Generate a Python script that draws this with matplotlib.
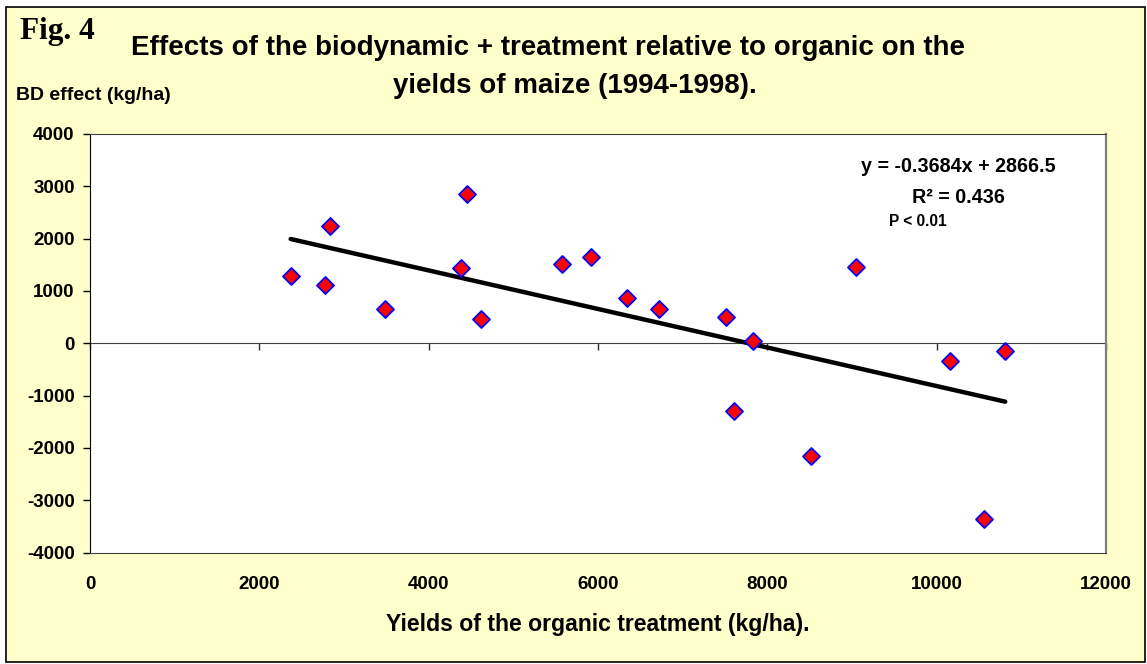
import matplotlib
matplotlib.use("Agg")
import matplotlib.pyplot as plt
from matplotlib.patches import Rectangle

plt.rcParams['font.family'] = ['Liberation Sans', 'DejaVu Sans']
plt.rcParams['font.weight'] = 'bold'
plt.rcParams['axes.labelweight'] = 'bold'
plt.rcParams['axes.unicode_minus'] = False

# organic yields (kg/ha) and BD effect (kg/ha)
org_yield = [2370, 2770, 2830, 3490, 4380, 4450, 4620, 5580, 5920, 6340,
             6720, 7510, 7610, 7830, 8510, 9050, 10160, 10560, 10810]
bd_effect = [1280, 1120, 2250, 650, 1430, 2860, 460, 1510, 1640, 870,
             660, 510, -1290, 50, -2150, 1460, -340, -3360, -150]
slope = -0.3684
icpt = 2866.5
xticks = [0, 2000, 4000, 6000, 8000, 10000, 12000]
yticks = [-4000, -3000, -2000, -1000, 0, 1000, 2000, 3000, 4000]

W, H = 1147, 664
fig = plt.figure(figsize=(W / 100, H / 100), dpi=100, facecolor='white')

# yellow chart area with black border
bg = Rectangle((6 / W, 1 - 662 / H), 1139 / W, 655 / H, transform=fig.transFigure,
               facecolor='#FFFFCC', edgecolor='black', lw=1.2, zorder=-1)
fig.patches.append(bg)

ax = fig.add_axes([90 / W, 1 - 552.6 / H, 1016 / W, 418.6 / H])
ax.set_facecolor('white')

ax.scatter(org_yield, bd_effect, marker='D', s=75, facecolor='#FF0000',
           edgecolor='#0000FF', linewidth=1.3, zorder=4)
lx = [min(org_yield), max(org_yield)]
ly = [slope * v + icpt for v in lx]
ax.plot(lx, ly, color='black', lw=3.2, solid_capstyle='round', zorder=3)

ax.set_xlim(0, 12000)
ax.set_ylim(-4000, 4000)
ax.set_xticks(xticks)
ax.set_yticks(yticks)
ax.tick_params(axis='x', length=0, pad=17, labelsize=13.5)
ax.tick_params(axis='y', direction='out', length=5, width=1, pad=6, labelsize=13.5)

ax.spines['left'].set_color('black')
ax.spines['top'].set_color('#404040')
ax.spines['bottom'].set_color('#404040')
ax.spines['right'].set_color('#808080')
ax.spines['right'].set_linewidth(1.6)

# zero line with its ticks
zero = ax.secondary_xaxis(0.5)
zero.set_xticks(xticks)
zero.set_xticklabels([])
zero.tick_params(axis='x', which='both', direction='in', length=5, width=1,
                 color='#303030', labeltop=False, labelbottom=False)
for s in zero.spines.values():
    s.set_color('#404040')

ax.set_xlabel('Yields of the organic treatment (kg/ha).', fontsize=16.6,
              fontweight='bold', labelpad=14)

fig.text(20 / W, 1 - 31 / H, 'Fig. 4', family=['Liberation Serif', 'DejaVu Serif'],
         fontsize=22.5, fontweight='bold', ha='left', va='center')
fig.text(548 / W, 1 - 48 / H,
         'Effects of the biodynamic + treatment relative to organic on the',
         fontsize=20, ha='center', va='center')
fig.text(575 / W, 1 - 86 / H, 'yields of maize (1994-1998).',
         fontsize=20, ha='center', va='center')
fig.text(16 / W, 1 - 95 / H, 'BD effect (kg/ha)', fontsize=14, ha='left', va='center')

fig.text(958 / W, 1 - 167 / H, 'y = -0.3684x + 2866.5', fontsize=14.2,
         ha='center', va='center')
fig.text(958 / W, 1 - 198 / H, 'R\u00b2 = 0.436', fontsize=14.2,
         ha='center', va='center')
fig.text(918 / W, 1 - 222 / H, 'P < 0.01', fontsize=11.2, ha='center', va='center')

fig.savefig('out.png', dpi=100, facecolor=fig.get_facecolor())
